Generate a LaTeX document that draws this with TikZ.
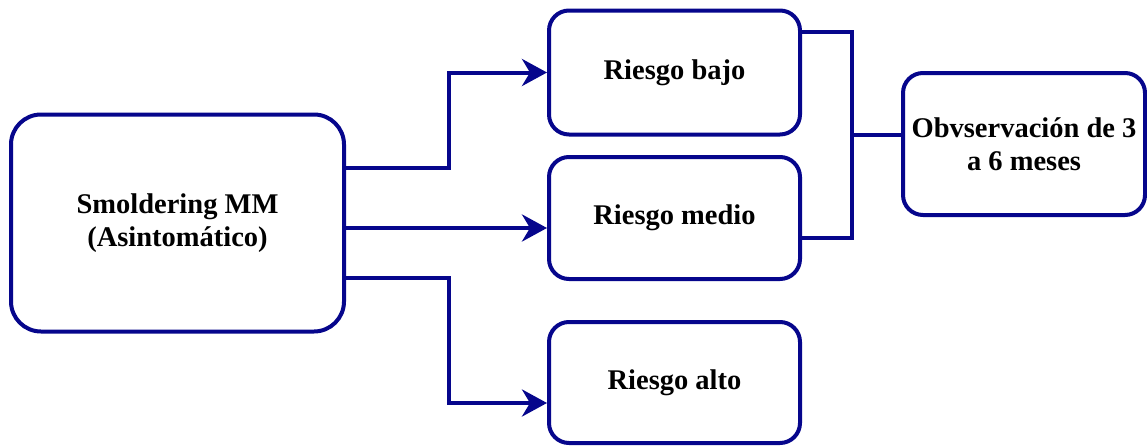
\documentclass[tikz,border=0pt]{standalone}
\usepackage{fontspec}
\newfontfamily\boxfont{Liberation Serif}[UprightFont={Liberation Serif Bold}]
\usetikzlibrary{arrows.meta,calc}
\definecolor{navyline}{RGB}{6,6,140}
\begin{document}
\begin{tikzpicture}[x=1pt,y=-1pt,
  box/.style={draw=navyline, line width=4pt, rounded corners=20pt, fill=white,
    align=center, inner sep=0pt,
    font=\boxfont\fontsize{28.5}{33}\selectfont},
  link/.style={draw=navyline, line width=4pt},
  arr/.style={link, -{Stealth[length=25pt,width=27pt,inset=8pt]}}]
\useasboundingbox (0,0) rectangle (1147,447);

% boxes
\node[box, rounded corners=30pt, minimum width=333pt, minimum height=217pt]
  (sm) at (177.5,223) {Smoldering MM\\(Asintomático)};
\node[box, minimum width=251pt, minimum height=124pt] (bajo)  at (674.5,72.5) {Riesgo bajo};
\node[box, minimum width=251pt, minimum height=122pt] (medio) at (674.5,218) {Riesgo medio};
\node[box, minimum width=251pt, minimum height=121pt] (alto)  at (674.5,382.5) {Riesgo alto};
\node[box, minimum width=242pt, minimum height=142pt] (obs)   at (1024,144) {Obvservación de 3\\a 6 meses};

% branches out of the first box
\draw[arr] ([yshift=55pt]sm.east) -- ++(103,0) |- (bajo.west);
\draw[arr] ([yshift=-5pt]sm.east) coordinate (m1) -- (m1 -| medio.west);
\draw[arr] ([yshift=-55pt]sm.east) -- ++(103,0) |- ([yshift=-20.5pt]alto.west);

% bracket joining low and medium risk to observation
\draw[link] ([yshift=40.5pt]bajo.east) -- ++(50,0) coordinate (b1)
  |- ([yshift=-20pt]medio.east);
\draw[link] ([yshift=9pt]obs.west) coordinate (o1) -- (o1 -| b1);
\end{tikzpicture}
\end{document}
